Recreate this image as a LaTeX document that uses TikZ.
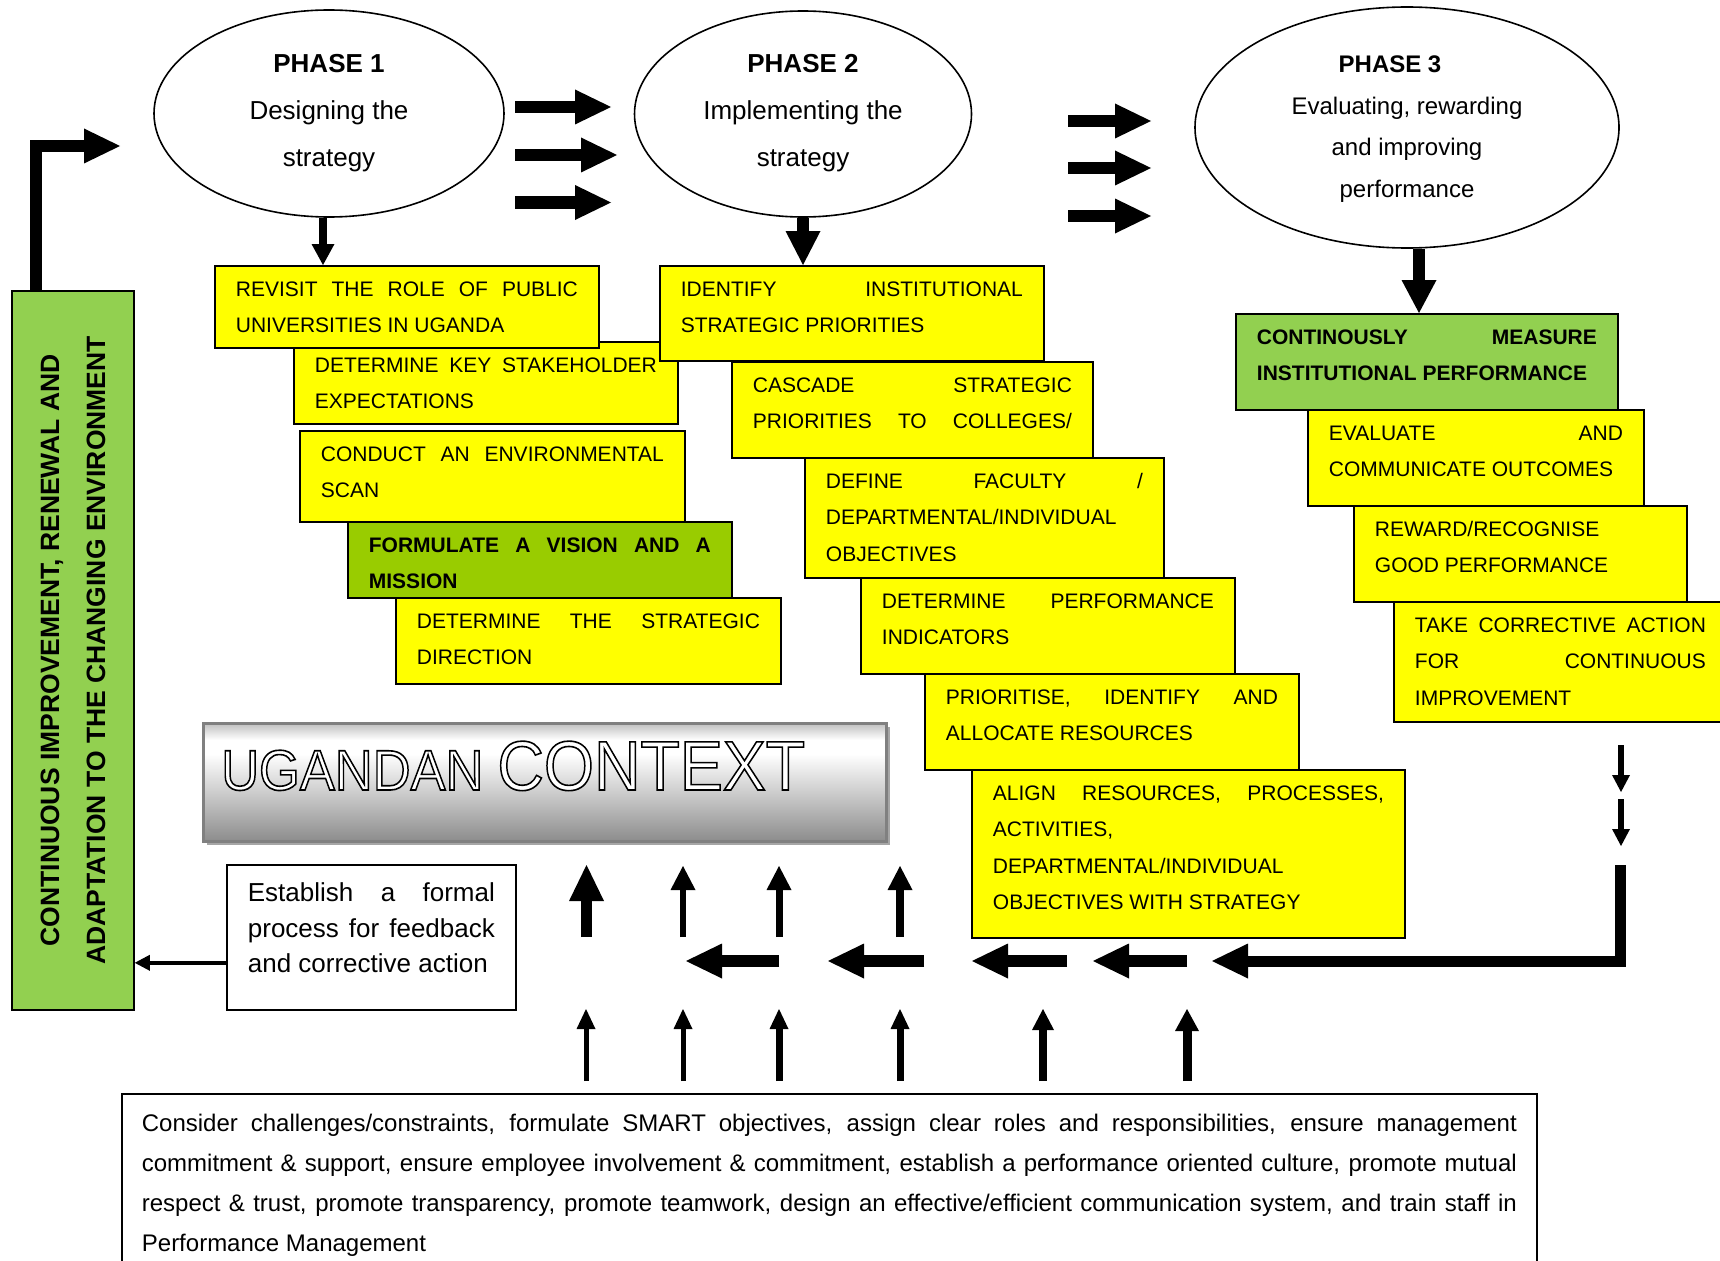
\documentclass[tikz,border=0pt]{standalone}
\usepackage{fontspec}
\setmainfont{Liberation Sans}
\usepackage{graphicx}
\usetikzlibrary{shapes.geometric,arrows.meta,calc,shadows}

\definecolor{boxyellow}{HTML}{FFFF00}
\definecolor{visiongreen}{HTML}{99CC00}
\definecolor{leafgreen}{HTML}{92D050}

% grey banner: light band near the top, darker towards the bottom
\pgfdeclareverticalshading{ctxshade}{100bp}{color(0bp)=(black!45); color(25bp)=(black!45); color(62bp)=(white); color(68bp)=(white); color(75bp)=(black!25); color(100bp)=(black!25)}

% text block of a step box: total width #1, height #2, lines #3
\newcommand\bx[3]{\parbox[c][#2pt][t]{\dimexpr#1pt-42pt\relax}{\fontsize{21}{36.5}\selectfont\rule{0pt}{30.5pt}#3}}
% a fully justified line
\newcommand\jl[1]{\makebox[\linewidth][s]{#1}}
% white letters with a black outline (fill and stroke text rendering)
\newcommand\hollow[1]{{\color{white}\special{pdf:literal direct 0 0 0 RG 1.6 w 2 Tr}#1\special{pdf:literal direct 0 Tr}}}

\begin{document}
\begin{tikzpicture}[x=1pt,y=-1pt,
  stepbox/.style={draw, line width=1.8pt, fill=boxyellow, inner xsep=21pt, inner ysep=0pt, anchor=north west},
  plainbox/.style={draw, line width=1.8pt, fill=white, inner ysep=0pt, anchor=north west},
  phase/.style={ellipse, draw, line width=1.6pt, inner sep=0pt, fill=white},
  blockarrow/.style={line width=12pt, -{Triangle[width=35pt,length=36pt,line width=0pt]}},
  slimarrow/.style={line width=6pt, -{Triangle[width=25pt,length=24pt,line width=0pt]}},
  pinarrow/.style={line width=5pt, -{Triangle[width=19pt,length=20pt,line width=0pt]}},
  tinyarrow/.style={line width=6pt, -{Triangle[width=18pt,length=17pt,line width=0pt]}},
  feedarrow/.style={line width=4pt, -{Triangle[width=16pt,length=15pt,line width=0pt]}}
]
\useasboundingbox (0,0) rectangle (1720,1260);
\fill[white] (0,0) rectangle (1720,1260);

% ---- the three phases ----
\node[phase, minimum width=350pt, minimum height=207pt] (e1) at (329,113.5)
  {\parbox[c][140pt][t]{200pt}{\centering\fontsize{26}{47}\selectfont\rule{0pt}{29.3pt}\textbf{PHASE 1}\\Designing the\\strategy}};
\node[phase, minimum width=337pt, minimum height=206pt] (e2) at (803,114)
  {\parbox[c][140pt][t]{220pt}{\centering\fontsize{26}{47}\selectfont\rule{0pt}{28.8pt}\textbf{PHASE 2}\\Implementing the\\strategy}};
\node[phase, minimum width=424pt, minimum height=241pt] (e3) at (1407,127.5)
  {\parbox[c][165pt][t]{240pt}{\centering\fontsize{24}{41.5}\selectfont\rule{0pt}{27.6pt}\textbf{PHASE 3}\rule{34pt}{0pt}\\Evaluating, rewarding\\and improving\\performance}};

% arrows from phase to phase
\coordinate (pa1s) at (515,107);   \coordinate (pa1e) at (611,107);
\coordinate (pa2s) at (515,155);   \coordinate (pa2e) at (617,155);
\coordinate (pa3s) at (515,202.5); \coordinate (pa3e) at (611,202.5);
\coordinate (pb1s) at (1068,121);  \coordinate (pb1e) at (1151,121);
\coordinate (pb2s) at (1068,168);  \coordinate (pb2e) at (1151,168);
\coordinate (pb3s) at (1068,216);  \coordinate (pb3e) at (1151,216);
\draw[blockarrow] (pa1s) -- (pa1e);
\draw[blockarrow] (pa2s) -- (pa2e);
\draw[blockarrow] (pa3s) -- (pa3e);
\draw[blockarrow] (pb1s) -- (pb1e);
\draw[blockarrow] (pb2s) -- (pb2e);
\draw[blockarrow] (pb3s) -- (pb3e);

% ---- phase 1 steps ----
\node[stepbox] (b2) at (293,341) {\bx{384}{82}{\jl{DETERMINE KEY STAKEHOLDER}\\EXPECTATIONS}};
\node[stepbox] (b1) at (214,265) {\bx{384}{82}{\jl{REVISIT THE ROLE OF PUBLIC}\\UNIVERSITIES IN UGANDA}};
\node[stepbox] (b3) at (299,430) {\bx{385}{91}{\jl{CONDUCT AN ENVIRONMENTAL}\\SCAN}};
\node[stepbox, fill=visiongreen] (b4) at (347,521) {\bx{384}{76}{\bfseries\jl{FORMULATE A VISION AND A}\\MISSION}};
\node[stepbox] (b5) at (395,597) {\bx{385}{86}{\jl{DETERMINE THE STRATEGIC}\\DIRECTION}};

% ---- phase 2 steps ----
\node[stepbox] (b6) at (659,265) {\bx{384}{95}{\jl{IDENTIFY INSTITUTIONAL}\\STRATEGIC PRIORITIES}};
\node[stepbox] (b7) at (731,361) {\bx{361}{96}{\jl{CASCADE STRATEGIC}\\\jl{PRIORITIES TO COLLEGES/}}};
\node[stepbox] (b8) at (804,457) {\bx{359}{120}{\jl{DEFINE FACULTY /}\\DEPARTMENTAL/INDIVIDUAL\\OBJECTIVES}};
\node[stepbox] (b9) at (860,577) {\bx{374}{96}{\jl{DETERMINE PERFORMANCE}\\INDICATORS}};
\node[stepbox] (b10) at (924,673) {\bx{374}{96}{\jl{PRIORITISE, IDENTIFY AND}\\ALLOCATE RESOURCES}};
\node[stepbox] (b11) at (971,769) {\bx{433}{168}{\jl{ALIGN RESOURCES, PROCESSES,}\\ACTIVITIES,\\DEPARTMENTAL/INDIVIDUAL\\OBJECTIVES WITH STRATEGY}};

% ---- phase 3 steps ----
\node[stepbox, fill=leafgreen] (b12) at (1235,313) {\bx{382}{96}{\bfseries\jl{CONTINOUSLY MEASURE}\\INSTITUTIONAL PERFORMANCE}};
\node[stepbox] (b13) at (1307,409) {\bx{336}{96}{\jl{EVALUATE AND}\\COMMUNICATE OUTCOMES}};
\node[stepbox] (b14) at (1353,505) {\bx{333}{96}{REWARD/RECOGNISE\\GOOD PERFORMANCE}};
\node[stepbox] (b15) at (1393,601) {\bx{333}{120}{\jl{TAKE CORRECTIVE ACTION}\\\jl{FOR CONTINUOUS}\\IMPROVEMENT}};

% phase to first step
\coordinate (s1) at ($(e1.south)+(-6,0)$);
\coordinate (s3) at ($(e3.south)+(12,0)$);
\draw[line width=8pt, -{Triangle[width=23pt,length=21pt,line width=0pt]}] (s1) -- (s1 |- b1.north);
\draw[line width=12pt, -{Triangle[width=35pt,length=34pt,line width=0pt]}] (e2.south) -- (e2.south |- b6.north);
\draw[line width=12.5pt, -{Triangle[width=35pt,length=33pt,line width=0pt]}] (s3) -- (s3 |- b12.north);

% ---- continuous improvement bar ----
\node[draw, line width=1.8pt, fill=leafgreen, minimum width=122pt, minimum height=719pt, inner sep=0pt, anchor=north west] (lbox) at (11,290)
  {\rotatebox{90}{\parbox{680pt}{\centering\bfseries\fontsize{26.5}{46}\selectfont CONTINUOUS IMPROVEMENT, RENEWAL AND\\ADAPTATION TO THE CHANGING ENVIRONMENT}}};
\coordinate (lt) at (120,146);
\draw[blockarrow] ($(lbox.north west)+(25,0)$) |- (lt);

% ---- Ugandan context banner ----
\node[draw=black!50, line width=2.5pt, shading=ctxshade, minimum width=683pt, minimum height=118pt, inner sep=0pt, anchor=north west,
      drop shadow={shadow xshift=4pt, shadow yshift=-4pt, fill=black!35, opacity=1}] (ctx) at (202,722) {};
\node[anchor=base west, inner sep=0pt] (ctxt) at (221,790)
  {\hollow{\scalebox{0.92}[1]{\fontsize{57}{60}\selectfont UGANDAN}}\hspace*{14pt}\hollow{\scalebox{0.92}[1]{\fontsize{70}{72}\selectfont CONTEXT}}};

% ---- feedback box ----
\node[plainbox, inner xsep=21pt] (fb) at (226,864)
  {\parbox[c][145pt][t]{247pt}{\fontsize{26}{35.5}\selectfont\rule{0pt}{37pt}\jl{Establish a formal}\\\jl{process for feedback}\\and corrective action}};
\coordinate (fbo) at ($(fb.south west)+(0,-48)$);
\draw[feedarrow] (fbo) -- (fbo -| lbox.east);

% ---- feedback loop arrows ----
\coordinate (d1s) at (1621,745); \coordinate (d1e) at (1621,792);
\coordinate (d2s) at (1621,799); \coordinate (d2e) at (1621,846);
\draw[tinyarrow] (d1s) -- (d1e);
\draw[tinyarrow] (d2s) -- (d2e);
\coordinate (rt) at (1620,865); \coordinate (rl) at (1212,961);
\draw[blockarrow, line width=11pt] (rt) |- (rl);

\coordinate (h1s) at (779,961);  \coordinate (h1e) at (686,961);
\coordinate (h2s) at (924,961);  \coordinate (h2e) at (828,961);
\coordinate (h3s) at (1067,961); \coordinate (h3e) at (972,961);
\coordinate (h4s) at (1187,961); \coordinate (h4e) at (1093,961);
\draw[blockarrow] (h1s) -- (h1e);
\draw[blockarrow] (h2s) -- (h2e);
\draw[blockarrow] (h3s) -- (h3e);
\draw[blockarrow] (h4s) -- (h4e);

% upward arrows into the context banner
\coordinate (u1s) at (586.5,937); \coordinate (u1e) at (586.5,865);
\coordinate (u2s) at (683,937);   \coordinate (u2e) at (683,866);
\coordinate (u3s) at (779,937);   \coordinate (u3e) at (779,866);
\coordinate (u4s) at (900,937);   \coordinate (u4e) at (900,866);
\draw[blockarrow, line width=11pt] (u1s) -- (u1e);
\draw[slimarrow] (u2s) -- (u2e);
\draw[slimarrow, line width=7pt] (u3s) -- (u3e);
\draw[slimarrow, line width=8pt] (u4s) -- (u4e);

% ---- enabling conditions ----
\node[plainbox, inner xsep=20pt] (cons) at (121,1093)
  {\parbox[c][200pt][t]{1375pt}{\fontsize{24}{40}\selectfont\rule{0pt}{38pt}%
   \jl{Consider challenges/constraints, formulate SMART objectives, assign clear roles and responsibilities, ensure management}\\
   \jl{commitment \& support, ensure employee involvement \& commitment, establish a performance oriented culture, promote mutual}\\
   \jl{respect \& trust, promote transparency, promote teamwork, design an effective/efficient communication system, and train staff in}\\
   Performance Management}};

% upward arrows from the enabling conditions (starting just above the box)
\coordinate (w1) at (586,1081);  \coordinate (v1) at (586,1009);
\coordinate (w2) at (683,1081);  \coordinate (v2) at (683,1009);
\coordinate (w3) at (779,1081);  \coordinate (v3) at (779,1009);
\coordinate (w4) at (900,1081);  \coordinate (v4) at (900,1009);
\coordinate (w5) at (1043,1081); \coordinate (v5) at (1043,1009);
\coordinate (w6) at (1187,1081); \coordinate (v6) at (1187,1009);
\draw[pinarrow] (w1) -- (v1);
\draw[pinarrow] (w2) -- (v2);
\draw[pinarrow, line width=7pt] (w3) -- (v3);
\draw[pinarrow, line width=7pt] (w4) -- (v4);
\draw[pinarrow, line width=8pt, -{Triangle[width=22pt,length=21pt,line width=0pt]}] (w5) -- (v5);
\draw[pinarrow, line width=9pt, -{Triangle[width=24pt,length=22pt,line width=0pt]}] (w6) -- (v6);
\end{tikzpicture}
\end{document}
